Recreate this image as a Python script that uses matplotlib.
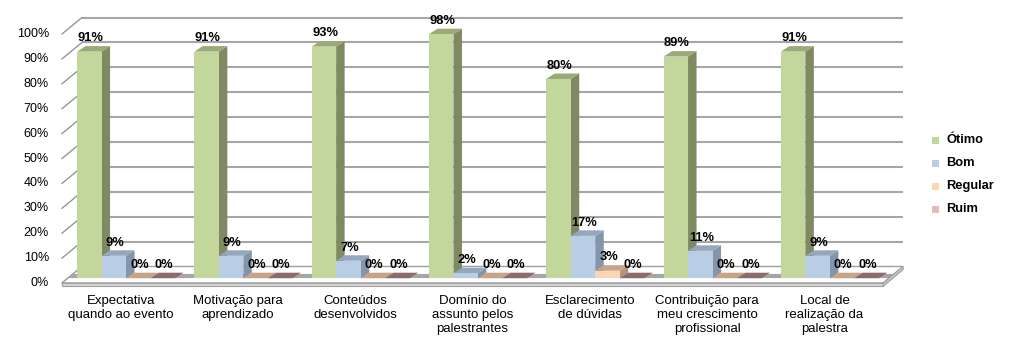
import matplotlib
matplotlib.use("Agg")
import matplotlib.pyplot as plt
from matplotlib.patches import Polygon, Rectangle

plt.rcParams["font.family"] = ["Liberation Sans", "DejaVu Sans"]

# ---- data -------------------------------------------------------------
categories = [
    "Expectativa\nquando ao evento",
    "Motivação para\naprendizado",
    "Conteúdos\ndesenvolvidos",
    "Domínio do\nassunto pelos\npalestrantes",
    "Esclarecimento\nde dúvidas",
    "Contribuição para\nmeu crescimento\nprofissional",
    "Local de\nrealização da\npalestra",
]
series_names = ["Ótimo", "Bom", "Regular", "Ruim"]
otimo = [91, 91, 93, 98, 80, 89, 91]
bom = [9, 9, 7, 2, 17, 11, 9]
regular = [0, 0, 0, 0, 3, 0, 0]
ruim = [0, 0, 0, 0, 0, 0, 0]
yticks = list(range(0, 101, 10))

# ---- styling: (front, side, top) shades per series ---------------------
shades = [
    ("#C3D69B", "#7F8A62", "#9BAA76"),
    ("#B9CDE5", "#8494AA", "#95A7BF"),
    ("#FCD5B5", "#B3937A", "#C6A48A"),
    ("#E6B9B8", "#9A7676", "#8C6B6B"),
]

W, H = 1013, 347
fig = plt.figure(figsize=(W / 100, H / 100), dpi=100)
fig.patch.set_facecolor("white")

# front plane geometry (pixels)
X0, UX = 62.0, 117.3   # left edge of the front plane, pixels per category
Y0, UY = 283.0, 2.49   # 0 % baseline, pixels per percent

ax = fig.add_axes([0, 0, 1, 1])
ax.set_xlim((0 - X0) / UX, (W - X0) / UX)
ax.set_ylim((Y0 - H) / UY, Y0 / UY)
ax.axis("off")


def px(x, y):
    """Convert figure pixel position to data units."""
    return (x - X0) / UX, (Y0 - y) / UY


n = len(categories)
WALL_DX, WALL_DY = 20 / UX, 16.5 / UY
BAR_W = 24.5 / UX
BAR_DX, BAR_DY = 8.5 / UX, 5.5 / UY
FRONT_DX, FRONT_DY = 0.046, 4.8 / UY
grid_col = "#A6A6A6"

# back wall gridlines and side-wall diagonals
for t in yticks:
    ax.plot([WALL_DX, n + WALL_DX], [t + WALL_DY, t + WALL_DY],
            color=grid_col, lw=1.5, solid_capstyle="butt", zorder=1)
    ax.plot([0, WALL_DX], [t, t + WALL_DY], color="#8C8C8C", lw=0.9, zorder=1)
    ax.text(px(49, 0)[0], t, f"{t}%", ha="right", va="center", fontsize=9)

# floor slab
floor_top = [(0, 0), (n, 0), (n + WALL_DX, WALL_DY), (WALL_DX, WALL_DY)]
ax.add_patch(Polygon(floor_top, closed=True, facecolor="white",
                     edgecolor="#A0A0A0", lw=1.0, zorder=2))
f0, f1 = 0.30, 0.55
band = [(f0 * WALL_DX, f0 * WALL_DY), (n + f0 * WALL_DX, f0 * WALL_DY),
        (n + f1 * WALL_DX, f1 * WALL_DY), (f1 * WALL_DX, f1 * WALL_DY)]
ax.add_patch(Polygon(band, closed=True, facecolor="#A6A6A6",
                     edgecolor="none", zorder=2))
thick = 1.3
ax.add_patch(Polygon([(0, 0), (n, 0), (n, -thick), (0, -thick)], closed=True,
                     facecolor="#D9D9D9", edgecolor="#A0A0A0", lw=0.8, zorder=2))
ax.add_patch(Polygon([(n, 0), (n + WALL_DX, WALL_DY),
                      (n + WALL_DX, WALL_DY - thick), (n, -thick)], closed=True,
                     facecolor="#C8C8C8", edgecolor="#A0A0A0", lw=0.8, zorder=2))

# 3-D style columns, drawn left to right so each front hides the previous side
data = [otimo, bom, regular, ruim]
z = 3
for i in range(n):
    left0 = i + 0.5 + FRONT_DX - 2 * BAR_W
    for s, values in enumerate(data):
        v = values[i]
        front, side, top = shades[s]
        xl = left0 + s * BAR_W
        xr = xl + BAR_W
        yb = FRONT_DY
        yt = v + FRONT_DY
        top_face = [(xl, yt), (xr, yt), (xr + BAR_DX, yt + BAR_DY),
                    (xl + BAR_DX, yt + BAR_DY)]
        side_face = [(xr, yb), (xr + BAR_DX, yb + BAR_DY),
                     (xr + BAR_DX, yt + BAR_DY), (xr, yt)]
        ax.add_patch(Polygon(side_face, closed=True, facecolor=side,
                             edgecolor="none", zorder=z))
        ax.add_patch(Polygon(top_face, closed=True, facecolor=top,
                             edgecolor="none", zorder=z))
        ax.add_patch(Rectangle((xl, yb), BAR_W, v, facecolor=front,
                               edgecolor="none", zorder=z))
        ax.text((xl + xr) / 2 + 0.01, yt + BAR_DY + 0.7, f"{v}%",
                ha="center", va="bottom", fontsize=9.3, fontweight="bold",
                zorder=50)
        z += 1

# category labels
for i, name in enumerate(categories):
    ax.text(i + 0.5, px(0, 295)[1], name, ha="center", va="top",
            fontsize=9.5, linespacing=1.2)

# legend
for k, name in enumerate(series_names):
    cy = 140 + 23 * k
    x0, y0 = px(932, cy + 3.5)
    x1, y1 = px(939, cy - 3.5)
    ax.add_patch(Rectangle((x0, y0), x1 - x0, y1 - y0,
                           facecolor=shades[k][0], edgecolor="none"))
    tx, ty = px(946, cy)
    ax.text(tx, ty, name, ha="left", va="center", fontsize=9.3,
            fontweight="bold")

fig.savefig("out.png", dpi=100, facecolor="white")
